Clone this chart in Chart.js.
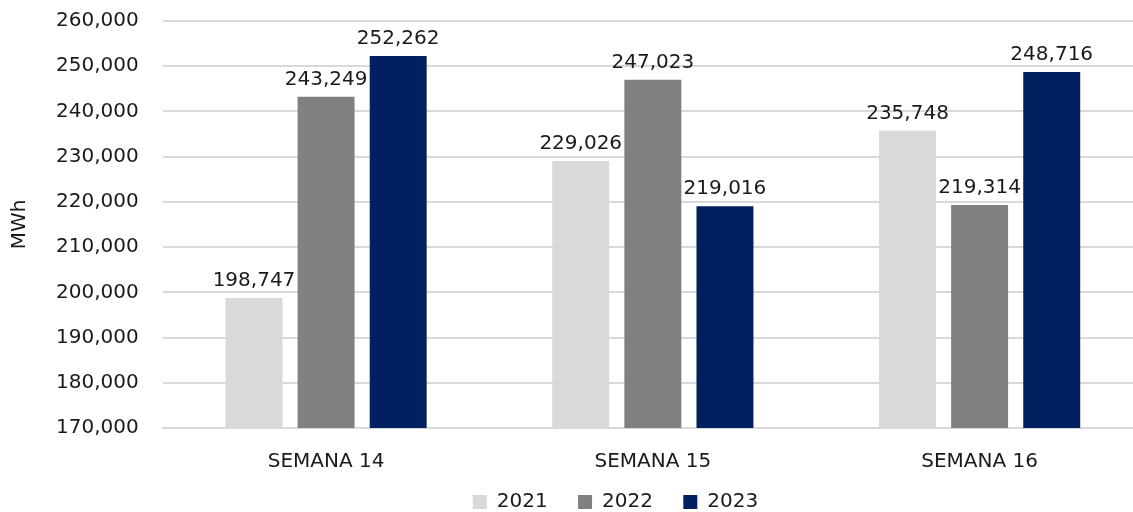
<!DOCTYPE html>
<html>
<head>
<meta charset="utf-8">
<script src="https://cdn.jsdelivr.net/npm/chart.js@4/dist/chart.umd.min.js"></script>
<style>
  html, body { margin: 0; padding: 0; background: #fff; overflow: hidden; }
  #wrap { position: relative; top: -15px; width: 1143px; height: 537px; }
</style>
</head>
<body>
<div id="wrap"><canvas id="chart"></canvas></div>
<script>
// datos
const categories = ['SEMANA 14', 'SEMANA 15', 'SEMANA 16'];
const years = ['2021', '2022', '2023'];
const values2021 = [198747, 229026, 235748];
const values2022 = [243249, 247023, 219314];
const values2023 = [252262, 219016, 248716];
const yTicks = [170000, 260000, 10000]; // min, max, paso

const colors = ['#d9d9d9', '#808080', '#002060'];
const FONT = "'DejaVu Sans', sans-serif";
const SIZE = 20;

// etiquetas encima de las barras (sin plugin externo)
const barLabels = {
    id: 'barLabels',
    afterDatasetsDraw(chart) {
        const ctx = chart.ctx;
        ctx.save();
        ctx.font = SIZE + 'px ' + FONT;
        ctx.fillStyle = '#1a1a1a';
        ctx.textAlign = 'center';
        ctx.textBaseline = 'alphabetic';
        chart.data.datasets.forEach((ds, i) => {
            chart.getDatasetMeta(i).data.forEach((bar, j) => {
                ctx.fillText(ds.data[j].toLocaleString('en-US'), bar.x, bar.y - 12);
            });
        });
        ctx.restore();
    }
};

// desplazar la leyenda hacia la derecha como en el original
const legendShift = {
    id: 'legendShift',
    afterLayout(chart) {
        chart.legend.left += 40;
        chart.legend.right += 40;
    }
};

const ctx = document.getElementById('chart').getContext('2d');
new Chart(ctx, {
    type: 'bar',
    data: {
        labels: categories,
        datasets: [
            { label: years[0], data: values2021, backgroundColor: colors[0] },
            { label: years[1], data: values2022, backgroundColor: colors[1] },
            { label: years[2], data: values2023, backgroundColor: colors[2] }
        ]
    },
    options: {
        responsive: true,
        maintainAspectRatio: false,
        animation: false,
        categoryPercentage: 0.662,
        barPercentage: 0.79,
        layout: { padding: { top: 0, left: 8, right: 0, bottom: 0 } },
        plugins: {
            legend: {
                position: 'bottom',
                labels: {
                    boxWidth: 14,
                    boxHeight: 14,
                    padding: 4,
                    color: '#1a1a1a',
                    font: { family: FONT, size: SIZE },
                    generateLabels(chart) {
                        const items = Chart.defaults.plugins.legend.labels.generateLabels(chart);
                        items.forEach((it, i) => {
                            if (i < items.length - 1) it.text += ' \u2003';
                        });
                        return items;
                    }
                }
            },
            tooltip: { enabled: false }
        },
        scales: {
            x: {
                grid: { display: false },
                border: { color: '#d9d9d9', width: 2 },
                ticks: {
                    color: '#1a1a1a',
                    padding: 14,
                    font: { family: FONT, size: SIZE }
                }
            },
            y: {
                min: yTicks[0],
                max: yTicks[1],
                grid: { color: '#d9d9d9', lineWidth: 2, drawTicks: false },
                border: { display: false },
                title: {
                    display: true,
                    text: 'MWh',
                    color: '#1a1a1a',
                    padding: { top: 0, bottom: 0 },
                    font: { family: FONT, size: SIZE }
                },
                ticks: {
                    stepSize: yTicks[2],
                    padding: 24,
                    color: '#1a1a1a',
                    font: { family: FONT, size: SIZE },
                    callback: v => v.toLocaleString('en-US')
                }
            }
        }
    },
    plugins: [barLabels, legendShift]
});
</script>
</body>
</html>
